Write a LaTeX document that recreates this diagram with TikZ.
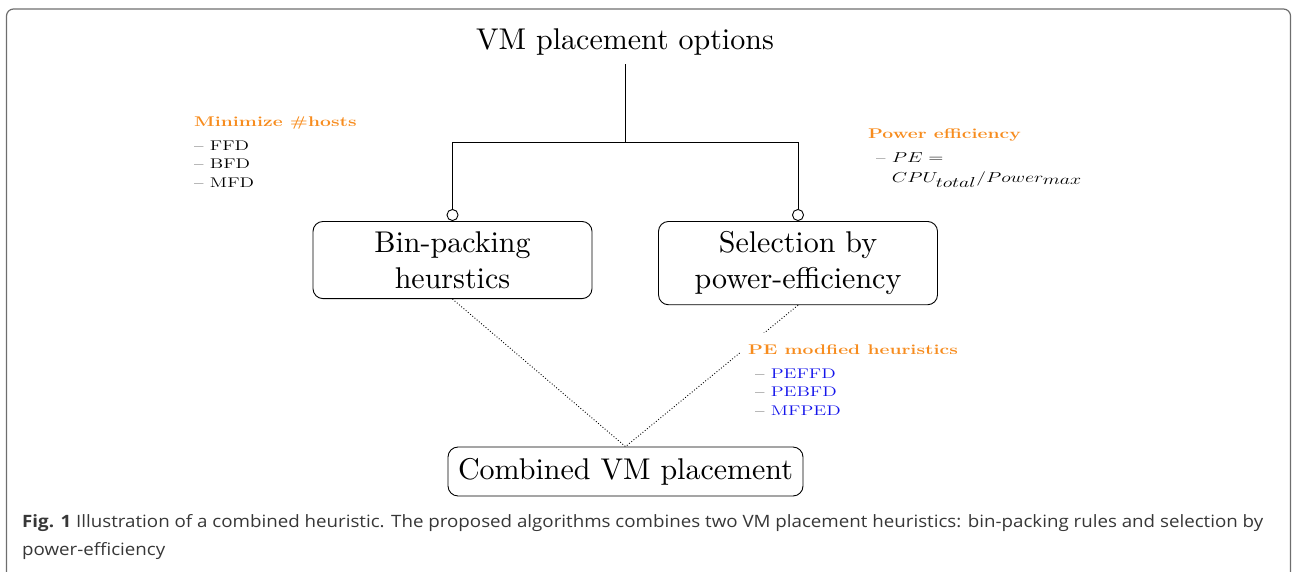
\documentclass[tikz,border=0pt]{standalone}
\usepackage{fontspec}
\newfontfamily\capfont{Open Sans}
\newfontfamily\lmten{lmroman10-regular.otf}
\usetikzlibrary{arrows.meta}
\definecolor{lblorange}{RGB}{247,140,30}
\definecolor{lblblue}{RGB}{20,20,235}
\definecolor{framegray}{RGB}{110,110,110}
\definecolor{capgray}{RGB}{55,55,55}
\newlength\capwidth
\newcommand{\smallfont}{\fontsize{14}{18.5}\selectfont}
\newcommand{\stretchtxt}[1]{\scalebox{1.38}[1]{#1}}
\newcommand{\capline}{\textbf{Fig. 1} Illustration of a combined heuristic. The proposed algorithms combines two VM placement heuristics: bin-packing rules and selection by}
\begin{document}
\begin{tikzpicture}[x=1pt,y=-1pt,
  bigtext/.style={font=\lmten\fontsize{30}{36}\selectfont},
  heurbox/.style={bigtext, draw, rounded corners=10pt, line width=0.9pt, align=center,
    minimum width=279pt, inner xsep=8pt, inner ysep=10pt, anchor=north},
  conn/.style={line width=0.9pt},
  dotconn/.style={line width=0.9pt, dotted},
  lbl/.style={inner sep=0pt, anchor=north west, align=left}
]
\useasboundingbox (0,0) rectangle (1292,571);
% frame
\draw[framegray, line width=1.2pt, rounded corners=7pt] (6.5,575) -- (6.5,9) -- (1290.5,9) -- (1290.5,575);

% title
\node[bigtext, inner sep=0pt, anchor=base] (title) at (625,49.3) {VM placement options};
\coordinate (top) at (625,64);
\coordinate (junc) at (625,142);

% boxes
\node[heurbox] (bp) at (452.5,221) {Bin-packing\\heurstics};
\node[heurbox] (sel) at (798,221) {Selection by\\power-efficiency};
\node[bigtext, draw, rounded corners=10pt, line width=0.9pt, inner xsep=10pt, inner ysep=11pt] (comb) at (625.5,471.5) {Combined VM placement};

% tree connectors
\draw[conn] (top) -- (junc);
\draw[conn, -{Circle[open, length=12pt, width=12pt]}] (junc) -| (bp.north);
\draw[conn, -{Circle[open, length=12pt, width=12pt]}] (junc) -| (sel.north);

% dotted connectors
\draw[dotconn] (bp.south) -- (comb.north);
\draw[dotconn] (sel.south) -- (comb.north);

% labels
\node[lbl] (minlbl) at (194,113) {\stretchtxt{\smallfont\begin{tabular}{@{}l@{}}
  \textcolor{lblorange}{\bfseries Minimize \#hosts}\\[5.5pt]
  -- FFD\\ -- BFD\\ -- MFD
\end{tabular}}};

\node[lbl] (powlbl) at (868,125) {\stretchtxt{\smallfont\begin{tabular}{@{}l@{}}
  \textcolor{lblorange}{\bfseries Power efficiency}\\[5.5pt]
  \hspace*{5.8pt}-- $PE =$\\[1.5pt]
  \hspace*{5.8pt}\phantom{-- }$CPU_{\textstyle total}/Power_{\textstyle max}$
\end{tabular}}};

\node[lbl, fill=white, inner xsep=8pt, inner ysep=8pt] (pelbl) at (740,333) {\stretchtxt{\smallfont\begin{tabular}{@{}l@{}}
  \textcolor{lblorange}{\bfseries PE modfied heuristics}\\[5.5pt]
  \hspace*{5pt}-- \textcolor{lblblue}{PEFFD}\\
  \hspace*{5pt}-- \textcolor{lblblue}{PEBFD}\\
  \hspace*{5pt}-- \textcolor{lblblue}{MFPED}
\end{tabular}}};

% caption
\node[inner sep=0pt, anchor=base west, text=capgray] (cap1) at (22,527) {\capfont\fontsize{17}{20}\selectfont
  \settowidth\capwidth{\capline}\global\capwidth=\capwidth
  \pgfmathsetmacro\capscale{1241/\capwidth}\global\let\capscale\capscale
  \scalebox{\capscale}[1]{\capline}};
\node[inner sep=0pt, anchor=base west, text=capgray] (cap2) at (22,555) {\capfont\fontsize{17}{20}\selectfont\scalebox{\capscale}[1]{power-efficiency}};
\end{tikzpicture}
\end{document}
